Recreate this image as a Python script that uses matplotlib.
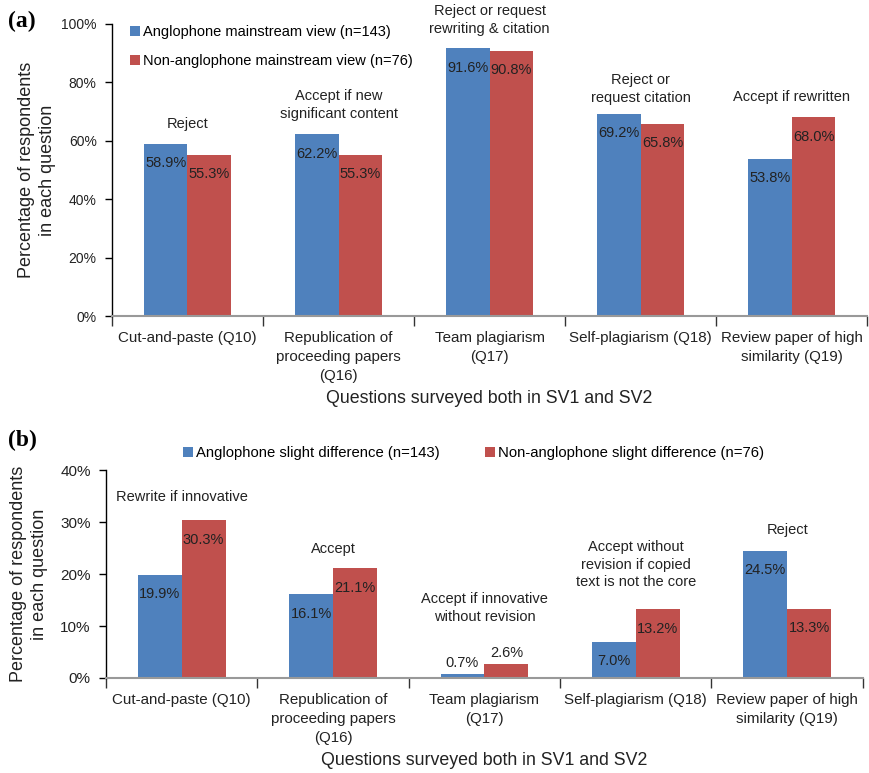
"""
Two-panel grouped bar chart: mainstream views and slight differences
between anglophone and non-anglophone respondents.
"""
import numpy as np
import matplotlib
matplotlib.use("Agg")
import matplotlib.pyplot as plt
from matplotlib.ticker import FuncFormatter, FixedLocator

plt.rcParams['font.family'] = ['Liberation Sans', 'DejaVu Sans']

BLUE = "#4F81BD"
RED = "#C0504D"
INK = "#222222"

QUESTIONS = [
    "Cut-and-paste (Q10)",
    "Republication of\nproceeding papers\n(Q16)",
    "Team plagiarism\n(Q17)",
    "Self-plagiarism (Q18)",
    "Review paper of high\nsimilarity (Q19)",
]

# panel (a): mainstream view
MAIN_ANGLO = [58.9, 62.2, 91.6, 69.2, 53.8]
MAIN_NON = [55.3, 55.3, 90.8, 65.8, 68.0]
MAIN_VIEWS = [
    "Reject",
    "Accept if new\nsignificant content",
    "Reject or request\nrewriting & citation",
    "Reject or\nrequest citation",
    "Accept if rewritten",
]
MAIN_LEGEND = ["Anglophone mainstream view (n=143)",
               "Non-anglophone mainstream view (n=76)"]

# panel (b): slight difference
SLIGHT_ANGLO = [19.9, 16.1, 0.7, 7.0, 24.5]
SLIGHT_NON = [30.3, 21.1, 2.6, 13.2, 13.3]
SLIGHT_VIEWS = [
    "Rewrite if innovative",
    "Accept",
    "Accept if innovative\nwithout revision",
    "Accept without\nrevision if copied\ntext is not the core",
    "Reject",
]
SLIGHT_LEGEND = ["Anglophone slight difference (n=143)",
                 "Non-anglophone slight difference (n=76)"]

BAR_W = 0.29


def draw_panel(ax, anglo, non, views, view_y, ymax, ystep, legend_labels,
               ytick_size, ylabel_pad):
    x = np.arange(len(QUESTIONS))
    b1 = ax.bar(x - BAR_W / 2, anglo, BAR_W, color=BLUE, label=legend_labels[0])
    b2 = ax.bar(x + BAR_W / 2, non, BAR_W, color=RED, label=legend_labels[1])

    for bars, vals in ((b1, anglo), (b2, non)):
        for rect, v in zip(bars, vals):
            cx = rect.get_x() + rect.get_width() / 2
            if v < 0.1 * ymax:
                # too short to hold the label, put it on top
                ax.annotate(f"{v:.1f}%", (cx, v), xytext=(0, 3),
                            textcoords="offset points", ha="center",
                            va="bottom", fontsize=10.5, color=INK)
            else:
                ax.annotate(f"{v:.1f}%", (cx, v), xytext=(0, -14),
                            textcoords="offset points", ha="center",
                            va="center", fontsize=10.5, color=INK)

    for xi, txt, yy in zip(x, views, view_y):
        ax.text(xi, yy, txt, ha="center", va="center", fontsize=10.5,
                color=INK, linespacing=1.3, clip_on=False)

    ax.set_xlim(-0.5, len(QUESTIONS) - 0.5)
    ax.set_ylim(0, ymax)
    ax.yaxis.set_major_locator(FixedLocator(np.arange(0, ymax + 0.1, ystep)))
    ax.yaxis.set_major_formatter(FuncFormatter(lambda v, p: f"{v:.0f}%"))
    ax.tick_params(axis="y", labelsize=ytick_size, length=5, width=1, pad=6,
                   labelcolor=INK)

    ax.set_xticks(x)
    ax.set_xticklabels(QUESTIONS, fontsize=10.9, linespacing=1.45, color=INK)
    ax.tick_params(axis="x", length=0, pad=11)
    ax.set_xticks(np.arange(-0.5, len(QUESTIONS)), minor=True)
    ax.tick_params(axis="x", which="minor", length=7, width=1, color="#333333")

    for s in ("top", "right"):
        ax.spines[s].set_visible(False)
    ax.spines["left"].set_linewidth(1)
    ax.spines["bottom"].set_color("#999999")
    ax.spines["bottom"].set_linewidth(1.5)

    ax.set_ylabel("Percentage of respondents\nin each question", fontsize=13,
                  labelpad=ylabel_pad, linespacing=1.25, color=INK)
    ax.set_xlabel("Questions surveyed both in SV1 and SV2", fontsize=12.8,
                  labelpad=5, color=INK)


fig = plt.figure(figsize=(8.7, 7.73), dpi=100)

ax_a = fig.add_axes([0.1287, 0.5912, 0.868, 0.3778])
draw_panel(ax_a, MAIN_ANGLO, MAIN_NON, MAIN_VIEWS,
           [65.8, 72.2, 101.4, 77.7, 75.0], 100, 20, MAIN_LEGEND,
           ytick_size=10, ylabel_pad=4)
ax_a.legend(loc="upper left", bbox_to_anchor=(0.016, 1.015), frameon=False,
            fontsize=10.5, handlelength=0.7, handleheight=0.7,
            handletextpad=0.2, labelspacing=1.0, borderaxespad=0)

ax_b = fig.add_axes([0.1218, 0.1229, 0.870, 0.2690])
draw_panel(ax_b, SLIGHT_ANGLO, SLIGHT_NON, SLIGHT_VIEWS,
           [34.87, 24.8, 13.46, 21.8, 28.46], 40, 10, SLIGHT_LEGEND,
           ytick_size=11, ylabel_pad=9)
ax_b.legend(loc="lower left", bbox_to_anchor=(0.094, 1.018), ncol=2,
            frameon=False, fontsize=10.7, handlelength=0.7, handleheight=0.7,
            handletextpad=0.2, columnspacing=3.0, borderaxespad=0)

fig.text(0.009, 0.972, "(a)", fontsize=17, fontweight="bold",
         family=['Liberation Serif', 'DejaVu Serif'], va="center")
fig.text(0.009, 0.430, "(b)", fontsize=17, fontweight="bold",
         family=['Liberation Serif', 'DejaVu Serif'], va="center")

fig.savefig("out.png", dpi=100)
